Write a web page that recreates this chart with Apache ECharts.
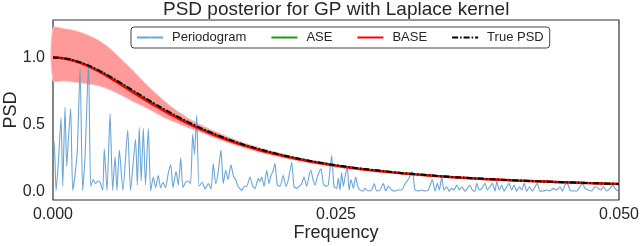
<!DOCTYPE html>
<html>
<head>
<meta charset="utf-8">
<script src="https://cdn.jsdelivr.net/npm/echarts@6/dist/echarts.min.js"></script>
<style>
html,body{margin:0;padding:0;background:#fff;}
#chart{width:640px;height:246px;}
</style>
</head>
<body>
<div id="chart"></div>
<script>
const titleText = 'PSD posterior for GP with Laplace kernel';
const xTickValues = [0, 0.025, 0.05];
const yTickValues = [0, 0.5, 1.0];

const periodogramFreq = [0.00003,0.00011,0.00027,0.00047,0.00071,0.00086,0.00106,0.00121,0.00135,0.00156,0.00174,0.00194,0.00215,0.00239,0.00262,0.00283,0.00314,0.00333,0.00356,0.00375,0.00398,0.00415,0.00439,0.00453,0.00477,0.00504,0.00527,0.00548,0.00565,0.00586,0.00618,0.00660,0.00685,0.00729,0.00745,0.00762,0.00779,0.00798,0.00817,0.00842,0.00863,0.00886,0.00907,0.00930,0.00950,0.00972,0.00994,0.01019,0.01040,0.01060,0.01087,0.01107,0.01128,0.01148,0.01171,0.01193,0.01215,0.01234,0.01250,0.01269,0.01290,0.01319,0.01343,0.01372,0.01396,0.01416,0.01437,0.01460,0.01484,0.01504,0.01526,0.01546,0.01572,0.01593,0.01614,0.01634,0.01667,0.01690,0.01711,0.01740,0.01764,0.01784,0.01814,0.01829,0.01844,0.01864,0.01888,0.01908,0.01926,0.01946,0.01961,0.01981,0.02005,0.02034,0.02058,0.02079,0.02109,0.02129,0.02153,0.02176,0.02197,0.02217,0.02241,0.02262,0.02279,0.02294,0.02315,0.02335,0.02353,0.02368,0.02388,0.02412,0.02432,0.02462,0.02482,0.02506,0.02520,0.02535,0.02550,0.02565,0.02580,0.02600,0.02615,0.02633,0.02653,0.02674,0.02692,0.02712,0.02741,0.02756,0.02780,0.02815,0.02838,0.02860,0.02889,0.02918,0.02939,0.02962,0.02992,0.03021,0.03050,0.03080,0.03110,0.03145,0.03174,0.03198,0.03227,0.03257,0.03286,0.03315,0.03351,0.03375,0.03395,0.03413,0.03434,0.03454,0.03478,0.03501,0.03522,0.03542,0.03566,0.03589,0.03610,0.03640,0.03660,0.03684,0.03704,0.03728,0.03743,0.03766,0.03787,0.03816,0.03837,0.03860,0.03881,0.03905,0.03920,0.03943,0.03964,0.03984,0.04008,0.04028,0.04052,0.04073,0.04096,0.04119,0.04140,0.04163,0.04185,0.04208,0.04234,0.04258,0.04278,0.04302,0.04331,0.04361,0.04390,0.04420,0.04450,0.04479,0.04499,0.04523,0.04543,0.04567,0.04596,0.04626,0.04655,0.04676,0.04700,0.04729,0.04759,0.04788,0.04817,0.04841,0.04861,0.04891,0.04921,0.04941,0.04965,0.04989];
const periodogramPower = [0.33,0.37,0.01,0.21,0.55,0.04,0.63,0.19,0.38,0.62,0.01,0.12,0.31,0.91,0.01,0.26,0.96,0.04,0.09,0.06,0.08,0.07,0.01,0.32,0.01,0.58,0.01,0.26,0.01,0.31,0.01,0.46,0.01,0.39,0.05,0.48,0.08,0.47,0.05,0.47,0.005,0.11,0.03,0.12,0.03,0.07,0.03,0.14,0.20,0.03,0.15,0.05,0.25,0.03,0.07,0.08,0.06,0.43,0.28,0.57,0.04,0.07,0.02,0.06,0.02,0.21,0.06,0.15,0.31,0.06,0.16,0.09,0.20,0.12,0.09,0.04,0.01,0.04,0.04,0.11,0.04,0.025,0.10,0.075,0.11,0.04,0.16,0.06,0.12,0.16,0.21,0.05,0.04,0.12,0.04,0.09,0.22,0.04,0.025,0.04,0.06,0.11,0.04,0.12,0.16,0.10,0.05,0.11,0.15,0.17,0.06,0.04,0.05,0.27,0.04,0.025,0.10,0.013,0.14,0.04,0.11,0.19,0.013,0.09,0.025,0.11,0.04,0.013,0.005,0.025,0.005,0.013,0.06,0.005,0.013,0.06,0.005,0.04,0.013,0.005,0.013,0.013,0.06,0.10,0.15,0.013,0.005,0.013,0.005,0.013,0.09,0.005,0.062,0.012,0.107,0.012,0.037,0.004,0.025,0.012,0.05,0.012,0.037,0.004,0.025,0.05,0.012,0.004,0.062,0.012,0.025,0.062,0.012,0.037,0.062,0.004,0.075,0.012,0.05,0.004,0.037,0.062,0.012,0.05,0.004,0.037,0.012,0.062,0.004,0.037,0.004,0.037,0.062,0.004,0.005,0.012,0.005,0.025,0.012,0.037,0.003,0.05,0.062,0.012,0.005,0.005,0.037,0.062,0.025,0.012,0.005,0.037,0.025,0.012,0.037,0.005,0.025,0.05,0.025,0.005];

const psdFreq = [0,0.001,0.002,0.003,0.004,0.005,0.006,0.007,0.008,0.009,0.010,0.011,0.012,0.013,0.014,0.015,0.016,0.017,0.018,0.019,0.020,0.021,0.022,0.023,0.024,0.025,0.026,0.027,0.028,0.029,0.030,0.031,0.032,0.033,0.034,0.035,0.036,0.037,0.038,0.039,0.040,0.041,0.042,0.043,0.044,0.045,0.046,0.047,0.048,0.049,0.050];
const truePsd = [1.0,0.994,0.975,0.945,0.906,0.860,0.810,0.758,0.706,0.655,0.606,0.560,0.516,0.476,0.440,0.406,0.375,0.347,0.322,0.299,0.278,0.259,0.241,0.225,0.211,0.197,0.185,0.174,0.164,0.155,0.146,0.138,0.131,0.124,0.117,0.111,0.106,0.101,0.096,0.092,0.088,0.084,0.080,0.077,0.074,0.071,0.068,0.065,0.063,0.060,0.058];
const asePsd = [1.0,0.994,0.974,0.943,0.903,0.856,0.805,0.753,0.701,0.650,0.601,0.555,0.512,0.472,0.436,0.403,0.372,0.345,0.320,0.297,0.276,0.257,0.239,0.223,0.209,0.196,0.184,0.173,0.163,0.154,0.145,0.137,0.130,0.123,0.117,0.111,0.105,0.100,0.096,0.091,0.087,0.083,0.080,0.077,0.073,0.070,0.068,0.065,0.062,0.060,0.057];
const basePsd = [1.0,0.993,0.972,0.940,0.898,0.850,0.797,0.744,0.692,0.641,0.593,0.548,0.505,0.466,0.431,0.398,0.368,0.341,0.316,0.293,0.273,0.254,0.237,0.221,0.207,0.194,0.182,0.171,0.161,0.152,0.144,0.136,0.129,0.122,0.116,0.110,0.105,0.100,0.095,0.091,0.087,0.083,0.080,0.077,0.074,0.071,0.068,0.065,0.063,0.060,0.058];
const baseUpper = [1.22,1.215,1.20,1.17,1.13,1.07,0.99,0.91,0.82,0.74,0.665,0.60,0.545,0.50,0.46,0.425,0.39,0.36,0.335,0.31,0.288,0.266,0.248,0.231,0.217,0.203,0.19,0.179,0.169,0.159,0.15,0.142,0.135,0.128,0.121,0.115,0.11,0.105,0.10,0.096,0.092,0.088,0.084,0.081,0.078,0.075,0.072,0.069,0.067,0.064,0.062];
const baseLower = [0.83,0.825,0.815,0.805,0.79,0.76,0.72,0.675,0.635,0.59,0.545,0.51,0.475,0.445,0.41,0.38,0.35,0.325,0.30,0.28,0.26,0.242,0.225,0.21,0.196,0.183,0.172,0.161,0.152,0.143,0.135,0.128,0.121,0.115,0.109,0.103,0.098,0.093,0.089,0.085,0.081,0.077,0.074,0.071,0.068,0.065,0.063,0.06,0.058,0.055,0.053];

const zip = (a, b) => a.map((v, i) => [v, b[i]]);
const textColor = '#262626';

const chart = echarts.init(document.getElementById('chart'), null, {renderer: 'canvas'});
chart.setOption({
  animation: false,
  backgroundColor: '#fff',
  title: {
    text: titleText, left: 163, top: 0, padding: 0,
    textStyle: {fontFamily: 'Liberation Sans', fontSize: 19, fontWeight: 'normal', color: textColor}
  },
  grid: {left: 53, right: 21, top: 20, bottom: 46, show: true, borderColor: '#333', borderWidth: 1.2,
    backgroundColor: 'transparent', outerBoundsMode: 'none', containLabel: false},
  legend: {
    top: 27, left: 131,
    data: [
      {name: 'Periodogram'}, {name: 'ASE'}, {name: 'BASE'}, {name: 'True PSD'}
    ],
    itemWidth: 26, itemHeight: 2, itemGap: 24,
    padding: [4, 6, 4, 5],
    borderColor: '#444', borderWidth: 1, borderRadius: 3,
    backgroundColor: 'rgba(255,255,255,0.85)',
    textStyle: {fontFamily: 'Liberation Sans', fontSize: 13, color: textColor, padding: [0, 0, 0, 4], lineHeight: 13}
  },
  xAxis: {
    type: 'value', min: 0, max: 0.05, interval: 0.025,
    name: 'Frequency', nameLocation: 'middle', nameGap: 24, nameMoveOverlap: false,
    nameTextStyle: {fontFamily: 'Liberation Sans', fontSize: 18, color: textColor},
    axisLine: {show: false}, axisTick: {show: false}, splitLine: {show: false},
    axisLabel: {fontFamily: 'Liberation Sans', fontSize: 16, color: textColor, margin: 7,
      formatter: v => xTickValues.some(t => Math.abs(t - v) < 1e-9) ? v.toFixed(3) : ''}
  },
  yAxis: {
    type: 'value', min: -0.062, max: 1.28, splitNumber: 3,
    name: 'PSD', nameLocation: 'middle', nameGap: 33, nameRotate: 90, nameMoveOverlap: false,
    nameTextStyle: {fontFamily: 'Liberation Sans', fontSize: 18, color: textColor},
    axisLine: {show: false}, axisTick: {show: false}, splitLine: {show: false},
    axisLabel: {fontFamily: 'Liberation Sans', fontSize: 16, color: textColor, margin: 8,
      showMinLabel: false, showMaxLabel: false,
      formatter: v => yTickValues.some(t => Math.abs(t - v) < 1e-9) ? v.toFixed(1) : ''}
  },
  series: [
    {
      name: 'BASE band', type: 'custom', silent: true, z: 1,
      data: [[0, 0]],
      renderItem: function (params, api) {
        const pts = [];
        for (let i = 0; i < psdFreq.length; i++) pts.push(api.coord([psdFreq[i], baseUpper[i]]));
        for (let i = psdFreq.length - 1; i >= 0; i--) pts.push(api.coord([psdFreq[i], baseLower[i]]));
        return {type: 'polygon', shape: {points: pts, smooth: 0.3}, style: {fill: '#ff9a9a', stroke: '#ffc4c4', lineWidth: 1}};
      }
    },
    {
      name: 'Periodogram', type: 'line', z: 2, symbol: 'none', smooth: 0.2,
      data: zip(periodogramFreq, periodogramPower),
      lineStyle: {color: '#5b9bd0', width: 1.1, opacity: 0.9},
      itemStyle: {color: '#9cc3e4'}
    },
    {
      name: 'ASE', type: 'line', z: 3, symbol: 'none', smooth: true,
      data: zip(psdFreq, asePsd),
      lineStyle: {color: '#1a9a1a', width: 2.2},
      itemStyle: {color: '#1a9a1a'}
    },
    {
      name: 'BASE', type: 'line', z: 4, symbol: 'none', smooth: true,
      data: zip(psdFreq, basePsd),
      lineStyle: {color: '#ff0000', width: 2.4},
      itemStyle: {color: '#ff0000'}
    },
    {
      name: 'True PSD', type: 'line', z: 5, symbol: 'none', smooth: true,
      data: zip(psdFreq, truePsd),
      lineStyle: {color: '#000', width: 2, type: [6, 2, 1.5, 2]},
      itemStyle: {color: '#000'}
    }
  ]
});
</script>
</body>
</html>
